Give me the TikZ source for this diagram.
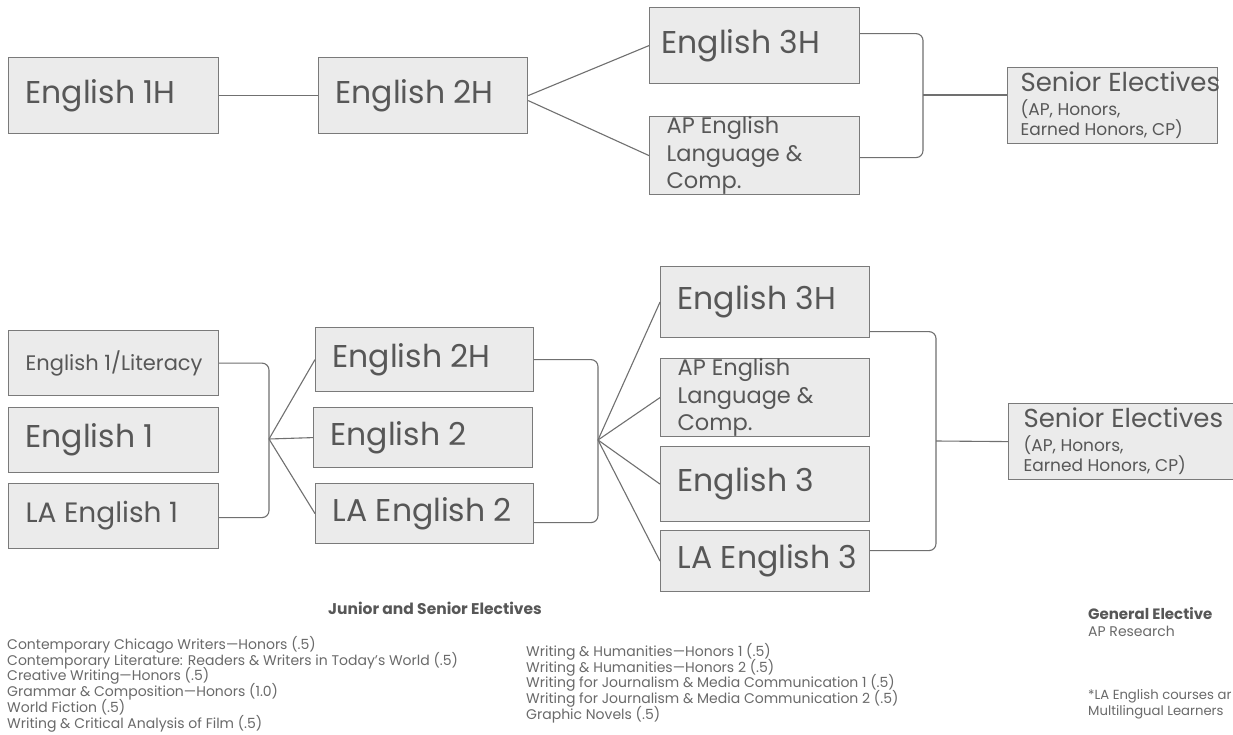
\documentclass[tikz,border=0pt]{standalone}
\usepackage{fontspec}
\setmainfont{Poppins}
\usepackage{xcolor}
\definecolor{boxfill}{HTML}{EBEBEB}
\definecolor{boxline}{HTML}{7A7A7A}
\definecolor{txtgray}{HTML}{575757}
\definecolor{linegray}{HTML}{707070}
\definecolor{notegray}{HTML}{6A6A6A}
\newcommand{\tightlist}{\lineskiplimit -20pt\relax}

\begin{document}
\begin{tikzpicture}[x=1pt,y=-1pt,
  course/.style={draw=boxline,fill=boxfill,line width=1.2pt,text=txtgray,
    anchor=north west,inner xsep=17pt,inner ysep=0pt,align=flush left},
  bigtxt/.style={font=\fontsize{31.5}{34}\selectfont},
  midtxt/.style={font=\fontsize{28}{31}\selectfont},
  smalltxt/.style={font=\fontsize{22.5}{27.5}\selectfont},
  wire/.style={draw=linegray,line width=1.1pt},
  bracket/.style={wire,rounded corners=7pt},
  notes/.style={anchor=north west,inner sep=0pt,align=flush left,text=notegray,
    font={\fontsize{14}{15.8}\selectfont\tightlist}}]
  \useasboundingbox[fill=white] (0,0) rectangle (1233,735);

  % honors track
  \node[course,bigtxt,minimum height=76pt,text width=176pt] (e1h) at (8,57) {English 1H};
  \node[course,bigtxt,minimum height=76pt,text width=175pt] (e2h) at (318,57) {English 2H};
  \node[course,bigtxt,minimum height=76pt,text width=186pt,inner xsep=12pt] (e3h) at (649,7) {English 3H};
  \node[course,smalltxt,minimum height=77pt,text width=176pt] (apl) at (649,116) {AP English\\Language \&\\Comp.};
  \node[course,minimum height=76pt,text width=184pt,inner xsep=13pt] (sen) at (1007,67)
    {\fontsize{26}{28}\selectfont\mbox{Senior Electives}\\[4pt]\fontsize{17}{20}\selectfont (AP, Honors,\\Earned Honors, CP)};
  \coordinate (jt) at (923,95);
  \draw[wire] (e1h) -- (e2h);
  \draw[wire] (e2h.east) -- (e3h.west);
  \draw[wire] ([yshift=-5pt]e2h.east) -- (apl.west);
  \draw[bracket] ([yshift=12pt]e3h.east) -- ([yshift=12pt]e3h.east -| jt) -- ([yshift=-2pt]apl.east -| jt) -- ([yshift=-2pt]apl.east);
  \draw[wire] (jt) -- (jt -| sen.west);

  % general track
  \node[course,font=\fontsize{21}{24}\selectfont,minimum height=65pt,text width=176pt] (e1l) at (8,330) {\mbox{English 1/Literacy}};
  \node[course,bigtxt,minimum height=65pt,text width=176pt] (e1) at (8,407) {English 1};
  \node[course,midtxt,minimum height=65pt,text width=176pt] (la1) at (8,483) {LA English 1};
  \node[course,bigtxt,minimum height=64pt,text width=184pt] (e2hb) at (315,327) {English 2H};
  \node[course,bigtxt,minimum height=60pt,text width=185pt] (e2) at (313,407) {English 2};
  \node[course,bigtxt,minimum height=60pt,text width=184pt] (la2) at (315,483) {LA English 2};
  \node[course,bigtxt,minimum height=71pt,text width=175pt] (e3hb) at (660,266) {English 3H};
  \node[course,smalltxt,minimum height=75pt,text width=175pt] (apb) at (660,358) {AP English\\Language \&\\Comp.};
  \node[course,bigtxt,minimum height=75pt,text width=175pt] (e3) at (660,446) {English 3};
  \node[course,bigtxt,minimum height=61pt,text width=175pt] (la3) at (660,530) {\mbox{LA English 3}};
  \node[course,minimum height=76pt,text width=204pt,inner xsep=15pt] (senb) at (1008,403)
    {\fontsize{26}{28}\selectfont\mbox{Senior Electives}\\[4pt]\fontsize{17}{20}\selectfont (AP, Honors,\\Earned Honors, CP)};
  \coordinate (f1) at (269,439);
  \coordinate (f2) at (598,440);
  \coordinate (j3) at (936,441);
  \draw[bracket] (e1l.east) -- (e1l.east -| f1) -- ([yshift=-1.5pt]la1.east -| f1) -- ([yshift=-1.5pt]la1.east);
  \draw[wire] (f1) -- (e2hb.west);
  \draw[wire] (f1) -- (e2.west);
  \draw[wire] (f1) -- (la2.west);
  \draw[bracket] (e2hb.east) -- (e2hb.east -| f2) -- ([yshift=-9pt]la2.east -| f2) -- ([yshift=-9pt]la2.east);
  \draw[wire] (f2) -- (e3hb.west);
  \draw[wire] (f2) -- (apb.west);
  \draw[wire] (f2) -- (e3.west);
  \draw[wire] (f2) -- (la3.west);
  \draw[bracket] ([yshift=-29.5pt]e3hb.east) -- ([yshift=-29.5pt]e3hb.east -| j3) -- ([yshift=10.5pt]la3.east -| j3) -- ([yshift=10.5pt]la3.east);
  \draw[wire] (j3) -- (senb.west);

  % electives
  \node[text=txtgray,font=\fontsize{15.5}{18}\bfseries] (jshead) at (435,608) {Junior and Senior Electives};
  \node[notes] (leftlist) at (7,636) {Contemporary Chicago Writers—Honors (.5)\\
    Contemporary Literature: Readers \& Writers in Today’s World (.5)\\
    Creative Writing—Honors (.5)\\
    Grammar \& Composition—Honors (1.0)\\
    World Fiction (.5)\\
    Writing \& Critical Analysis of Film (.5)};
  \node[notes] (midlist) at (526,643) {Writing \& Humanities—Honors 1 (.5)\\
    Writing \& Humanities—Honors 2 (.5)\\
    Writing for Journalism \& Media Communication 1 (.5)\\
    Writing for Journalism \& Media Communication 2 (.5)\\
    Graphic Novels (.5)};
  \node[notes,text=txtgray,font=\fontsize{15}{18}\bfseries] (genhead) at (1088,607) {General Elective};
  \node[notes] (genlist) at (1088,626) {AP Research};
  \node[notes,font={\fontsize{13.2}{16.5}\selectfont\tightlist}] (lanote) at (1088,689) {*LA English courses ar\\Multilingual Learners};
\end{tikzpicture}
\end{document}
